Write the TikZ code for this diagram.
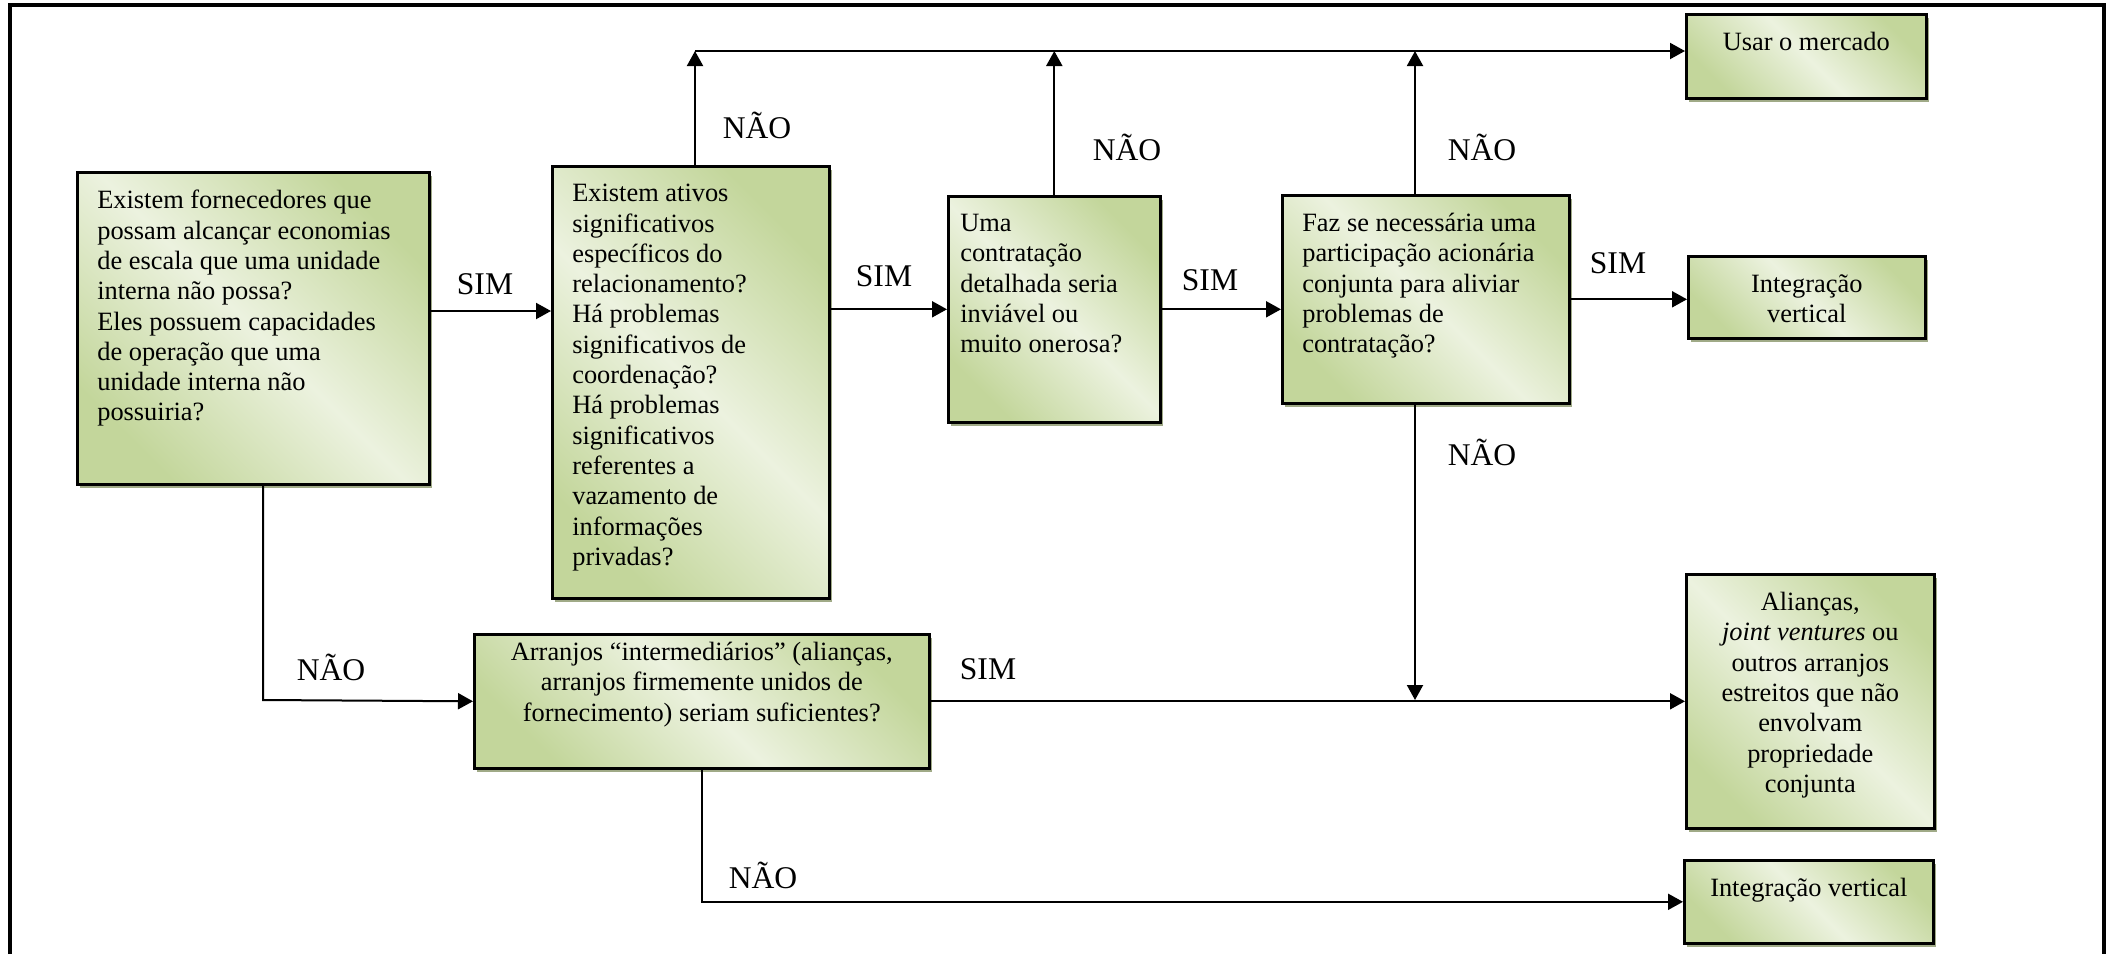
\documentclass[tikz,border=0pt]{standalone}
\usepackage{fontspec}
\setmainfont{Liberation Serif}
\usetikzlibrary{arrows.meta,positioning,shadows,calc}
\definecolor{qgreen}{RGB}{195,214,155}
\definecolor{qlight}{RGB}{236,242,223}
\definecolor{qshadow}{RGB}{160,170,135}
\newcommand{\boxfont}{\fontsize{13.2}{15.15}\selectfont}
\newcommand{\labfont}{\fontsize{15.8}{18}\selectfont}
\newcommand{\ltext}[3]{\parbox[c][#2][t]{#1}{\raggedright #3}}
\newcommand{\ctext}[3]{\parbox[c][#2][t]{#1}{\centering #3}}

\begin{document}
\begin{tikzpicture}[x=0.5pt,y=-0.5pt,
  qbox/.style={draw=black,line width=1.3pt,left color=qgreen,right color=qgreen,middle color=qlight,shading angle=135,
    drop shadow={shadow xshift=1.5pt,shadow yshift=-2pt,fill=qshadow,opacity=1},
    inner xsep=10pt,inner ysep=9pt,anchor=north west,font=\boxfont},
  lab/.style={font=\labfont,inner sep=0pt},
  arr/.style={line width=1pt,-{Triangle[length=7.5pt,width=8pt]}}]
  \useasboundingbox (0,0) rectangle (2110,954);
  % Frame
  \draw[line width=2pt] (10,954) -- (10,5) -- (2104,5) -- (2104,954);
  % Question boxes
  \node[qbox] (A) at (76,171) {\ltext{156pt}{138pt}{Existem fornecedores que\\ possam alcançar economias\\ de escala que uma unidade\\ interna não possa?\\ Eles possuem capacidades\\ de operação que uma\\ unidade interna não\\ possuiria?}};
  \node[qbox] (B) at (551,165) {\ltext{118.5pt}{198pt}{Existem ativos\\ significativos\\ específicos do\\ relacionamento?\\ Há problemas\\ significativos de\\ coordenação?\\ Há problemas\\ significativos\\ referentes a\\ vazamento de\\ informações\\ privadas?}};
  \node[qbox,inner xsep=6pt] (C) at (947,195) {\ltext{94pt}{95pt}{Uma\\ contratação\\ detalhada seria\\ inviável ou\\ muito onerosa?}};
  \node[qbox] (D) at (1281,194) {\ltext{123.5pt}{86pt}{Faz se necessária uma\\ participação acionária\\ conjunta para aliviar\\ problemas de\\ contratação?}};
  \node[qbox,inner ysep=4pt] (I) at (473,633) {\ctext{207.5pt}{59pt}{Arranjos “intermediários” (alianças,\\ arranjos firmemente unidos de\\ fornecimento) seriam suficientes?}};
  % Outcome boxes
  \node[qbox] (E) at (1685,13) {\ctext{100pt}{24pt}{Usar o mercado}};
  \node[qbox] (F) at (1687,255) {\ctext{98.5pt}{23pt}{Integração\\ vertical}};
  \node[qbox] (G) at (1685,573) {\ctext{104pt}{109pt}{Alianças,\\ \textit{joint ventures} ou\\ outros arranjos\\ estreitos que não\\ envolvam\\ propriedade\\ conjunta}};
  \node[qbox] (H) at (1683,859) {\ctext{104.5pt}{23.5pt}{Integração vertical}};
  % SIM branches
  \coordinate (y1) at (0,311);
  \draw[arr] (A.east |- y1) -- (B.west |- y1);
  \draw[arr] (B.east |- C.west) -- (C.west);
  \draw[arr] (C.east) -- (D.west |- C.east);
  \draw[arr] (D.east) -- (F.west |- D.east);
  \draw[arr] (I.east) -- (G.west);
  % NAO branches
  \coordinate (t0) at (695,51);
  \coordinate (jD) at (1415,700);
  \coordinate (jA) at (263,700);
  \draw[arr] (B.north -| t0) -- (t0);
  \draw[arr] (t0) -- (E.west |- t0);
  \draw[arr] (C.north) -- (C.north |- t0);
  \draw[arr] (D.north -| jD) -- (jD |- t0);
  \draw[arr] (D.south -| jD) -- (jD);
  \draw[arr] (A.south -| jA) -- (jA) -- (I.west);
  \draw[arr] (I.south) |- (H.west);
  % Labels
  \node[lab] (s1) at (485,284) {SIM};
  \node[lab] (s2) at (884,276) {SIM};
  \node[lab] (s3) at (1210,280) {SIM};
  \node[lab] (s4) at (1618,263) {SIM};
  \node[lab] (s5) at (988,669) {SIM};
  \node[lab] (n1) at (757,125) {NÃO};
  \node[lab] (n2) at (1127,147) {NÃO};
  \node[lab] (n3) at (1482,147) {NÃO};
  \node[lab] (n4) at (1482,452) {NÃO};
  \node[lab] (n5) at (331,667) {NÃO};
  \node[lab] (n6) at (763,875) {NÃO};
\end{tikzpicture}
\end{document}
